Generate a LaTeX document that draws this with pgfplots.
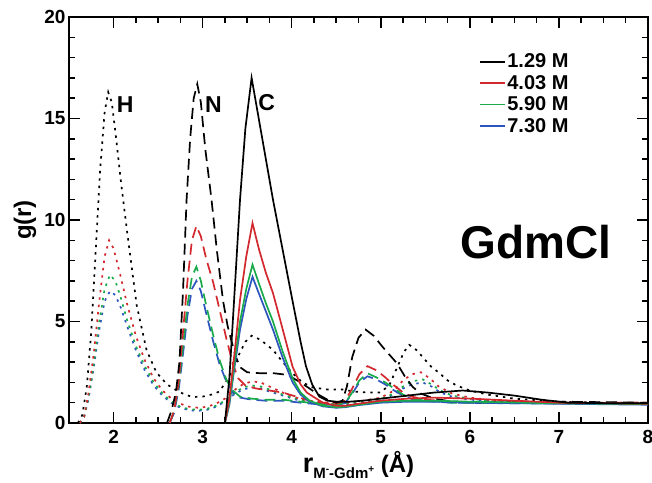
\documentclass[border=0pt]{standalone}
\usepackage{pgfplots}
\pgfplotsset{compat=1.18}
\usepackage{fontspec}
\setmainfont{Liberation Sans}
\definecolor{mred}{RGB}{210,40,45}
\definecolor{mgreen}{RGB}{25,170,75}
\definecolor{mblue}{RGB}{45,85,190}
\tikzset{
  dotl/.style={line width=1.7bp, dash pattern=on 2.4bp off 5bp},
  dashl/.style={line width=1.7bp, dash pattern=on 11bp off 6bp},
  solidl/.style={line width=1.7bp, solid},
}
\begin{document}
\begin{tikzpicture}
\begin{axis}[
  at={(0,0)}, anchor=south west,
  scale only axis, width=579bp, height=406bp,
  xmin=1.5, xmax=8, ymin=0, ymax=20,
  xtick={2,3,4,5,6,7,8}, ytick={0,5,10,15,20},
  xticklabels={2,3,4,5,6,7,8}, yticklabels={0,5,10,15,20},
  minor x tick num=3, minor y tick num=4,
  tick align=inside,
  major tick length=11bp, minor tick length=6.5bp,
  axis line style={line width=1.6bp},
  every tick/.style={line width=1.5bp, black},
  tick label style={font=\bfseries\fontsize{19bp}{19bp}\selectfont},
  xticklabel style={yshift=-4bp},
  xlabel={{\fontsize{27bp}{27bp}\selectfont r}\raisebox{-6bp}{\fontsize{15bp}{15bp}\selectfont M\raisebox{6bp}{\fontsize{10bp}{10bp}\selectfont -}-Gdm\raisebox{6bp}{\fontsize{10bp}{10bp}\selectfont +}} (Å)},
  xlabel style={font=\bfseries\fontsize{24bp}{24bp}\selectfont, at={(axis description cs:0.5,-0.122)}, anchor=base},
  ylabel={g(r)},
  ylabel style={font=\bfseries\fontsize{24bp}{24bp}\selectfont, at={(axis description cs:-0.076,0.5)}, anchor=center},
  legend style={at={(rel axis cs:0.703,0.918)}, anchor=north west, draw=none, fill=none,
    font=\bfseries\fontsize{20bp}{20bp}\selectfont, row sep=3bp,
    nodes={inner sep=1.5bp}},
  legend cell align=left,
  legend image code/.code={\draw[#1, solid, line width=1.6bp] (0bp,0bp) -- (25bp,0bp);},
]
\addlegendimage{color=black, line width=1.6bp}
\addlegendimage{color=mred, line width=1.6bp}
\addlegendimage{color=mgreen, line width=1.6bp}
\addlegendimage{color=mblue, line width=1.6bp}
\legend{1.29 M, 4.03 M, 5.90 M, 7.30 M}

% ---- H (dotted)
\addplot[mblue, dotl, forget plot] coordinates {(1.62,0) (1.67,0.3) (1.72,1.2) (1.78,2.8) (1.84,4.6) (1.9,6.0) (1.96,6.5) (2.02,6.3) (2.08,5.7) (2.15,4.8) (2.25,3.6) (2.35,2.6) (2.45,1.85) (2.55,1.35) (2.65,0.98) (2.75,0.75) (2.85,0.63) (2.95,0.6) (3.05,0.65) (3.15,0.8) (3.25,1.05) (3.35,1.4) (3.45,1.65) (3.55,1.75) (3.65,1.7) (3.75,1.55) (3.9,1.35) (4.05,1.15) (4.2,1.0) (4.4,0.92) (4.6,0.92) (4.8,1.0) (5.0,1.15) (5.15,1.4) (5.25,1.7) (5.35,1.9) (5.47,2.0) (5.57,1.8) (5.67,1.5) (5.8,1.3) (6.0,1.15) (6.3,1.05) (7.0,0.98) (8.0,0.95)};
\addplot[mgreen, dotl, forget plot] coordinates {(1.62,0) (1.67,0.3) (1.72,1.3) (1.78,3.0) (1.84,5.0) (1.9,6.6) (1.96,7.3) (2.02,7.0) (2.08,6.2) (2.15,5.1) (2.25,3.8) (2.35,2.8) (2.45,2.0) (2.55,1.45) (2.65,1.05) (2.75,0.8) (2.85,0.68) (2.95,0.65) (3.05,0.7) (3.15,0.85) (3.25,1.1) (3.35,1.45) (3.45,1.75) (3.55,1.85) (3.65,1.8) (3.75,1.65) (3.9,1.4) (4.05,1.2) (4.2,1.05) (4.4,0.95) (4.6,0.95) (4.8,1.05) (5.0,1.2) (5.15,1.45) (5.25,1.8) (5.35,2.05) (5.47,2.15) (5.57,1.9) (5.67,1.6) (5.8,1.35) (6.0,1.2) (6.3,1.05) (7.0,1.0) (8.0,0.95)};
\addplot[mred, dotl, forget plot] coordinates {(1.62,0) (1.67,0.3) (1.72,1.5) (1.78,3.5) (1.84,6) (1.9,8.2) (1.95,9.0) (2.0,8.6) (2.07,7.4) (2.15,5.9) (2.25,4.3) (2.35,3.1) (2.45,2.2) (2.55,1.6) (2.65,1.2) (2.75,0.95) (2.85,0.8) (2.95,0.75) (3.05,0.8) (3.15,0.95) (3.25,1.2) (3.35,1.6) (3.45,1.9) (3.55,2.05) (3.65,2.0) (3.75,1.8) (3.9,1.5) (4.05,1.25) (4.2,1.1) (4.4,1.0) (4.6,1.0) (4.8,1.1) (5.0,1.25) (5.15,1.6) (5.25,2.1) (5.35,2.4) (5.45,2.5) (5.55,2.2) (5.65,1.8) (5.8,1.45) (6.0,1.25) (6.3,1.1) (7.0,1.0) (8.0,1.0)};
\addplot[black, dotl, forget plot] coordinates {(1.60,0) (1.65,0.4) (1.70,1.8) (1.75,4.5) (1.80,8.5) (1.85,12.5) (1.90,15.3) (1.94,16.3) (1.98,15.8) (2.03,14) (2.08,12) (2.15,9.5) (2.26,5.8) (2.37,3.6) (2.48,2.5) (2.6,1.9) (2.71,1.6) (2.8,1.4) (2.89,1.28) (3.0,1.3) (3.1,1.4) (3.19,1.55) (3.3,2.3) (3.4,3.3) (3.48,4.0) (3.55,4.3) (3.65,4.1) (3.79,3.6) (3.9,3.0) (4.01,2.45) (4.12,2.0) (4.24,1.75) (4.4,1.65) (4.57,1.65) (4.7,1.55) (4.85,1.5) (5.0,1.5) (5.1,1.9) (5.18,2.7) (5.26,3.5) (5.32,3.85) (5.4,3.6) (5.47,3.25) (5.56,2.8) (5.66,2.45) (5.75,2.1) (5.85,1.85) (6.0,1.6) (6.2,1.4) (6.5,1.2) (7.0,1.05) (7.5,1.0) (8.0,1.0)};

% ---- N (dashed)
\addplot[mblue, dashl, forget plot] coordinates {(2.63,0) (2.68,0.5) (2.73,1.6) (2.78,3.4) (2.83,5.3) (2.88,6.6) (2.93,7.0) (2.98,6.5) (3.04,5.4) (3.12,4.0) (3.19,2.9) (3.27,2.0) (3.34,1.5) (3.42,1.25) (3.55,1.15) (3.7,1.1) (3.9,1.1) (4.1,1.0) (4.3,0.92) (4.5,0.88) (4.6,0.98) (4.68,1.45) (4.76,2.0) (4.85,2.3) (4.95,2.15) (5.05,1.9) (5.15,1.6) (5.25,1.35) (5.35,1.18) (5.5,1.08) (5.8,1.0) (6.5,0.97) (8.0,0.95)};
\addplot[mgreen, dashl, forget plot] coordinates {(2.63,0) (2.68,0.6) (2.73,1.8) (2.78,3.8) (2.83,5.8) (2.88,7.2) (2.93,7.7) (2.98,7.0) (3.04,5.8) (3.12,4.3) (3.19,3.1) (3.27,2.1) (3.34,1.6) (3.42,1.3) (3.55,1.2) (3.7,1.15) (3.9,1.15) (4.1,1.05) (4.3,0.95) (4.5,0.9) (4.6,1.0) (4.68,1.5) (4.76,2.1) (4.85,2.45) (4.95,2.25) (5.05,2.0) (5.15,1.7) (5.25,1.4) (5.35,1.2) (5.5,1.1) (5.8,1.0) (6.5,0.98) (8.0,0.95)};
\addplot[mred, dashl, forget plot] coordinates {(2.63,0) (2.68,0.6) (2.73,2) (2.78,4.5) (2.83,7) (2.88,9) (2.93,9.7) (2.98,9.2) (3.04,8.1) (3.12,6.9) (3.2,5.4) (3.27,4.1) (3.34,2.9) (3.4,2.2) (3.48,1.85) (3.6,1.7) (3.75,1.6) (3.9,1.5) (4.05,1.3) (4.2,1.1) (4.35,1.0) (4.5,0.95) (4.6,1.1) (4.68,1.7) (4.76,2.4) (4.85,2.8) (4.95,2.6) (5.05,2.25) (5.15,1.85) (5.25,1.5) (5.35,1.3) (5.5,1.15) (5.8,1.05) (6.5,1.0) (8.0,1.0)};
\addplot[black, dashl, forget plot] coordinates {(2.6,0) (2.65,0.6) (2.7,1.5) (2.74,3) (2.78,6.5) (2.82,11) (2.86,14) (2.9,16) (2.94,16.7) (2.98,15.8) (3.03,13.5) (3.1,11) (3.16,8.5) (3.23,6.0) (3.28,4.8) (3.32,4.1) (3.37,3.3) (3.42,2.75) (3.5,2.5) (3.65,2.45) (3.8,2.45) (3.9,2.4) (3.98,2.3) (4.1,2.0) (4.2,1.7) (4.3,1.4) (4.4,1.15) (4.5,1.0) (4.57,1.1) (4.62,1.8) (4.68,3.25) (4.75,4.2) (4.83,4.6) (4.92,4.3) (5.02,3.75) (5.1,3.35) (5.18,2.95) (5.27,2.3) (5.36,1.77) (5.45,1.45) (5.6,1.2) (5.8,1.05) (6.2,1.0) (7.0,1.05) (8.0,1.0)};

% ---- C (solid)
\addplot[mblue, solidl, forget plot] coordinates {(3.25,0) (3.3,0.9) (3.36,2.8) (3.42,4.6) (3.49,6.1) (3.56,7.2) (3.63,6.4) (3.71,5.5) (3.79,4.6) (3.9,3.2) (4.01,2.0) (4.1,1.4) (4.2,1.05) (4.35,0.82) (4.5,0.75) (4.6,0.78) (4.75,0.88) (5.0,1.0) (5.3,1.05) (5.6,1.05) (6.0,1.0) (7.0,0.95) (8.0,0.9)};
\addplot[mgreen, solidl, forget plot] coordinates {(3.25,0) (3.3,1.0) (3.36,3.0) (3.42,5.0) (3.49,6.6) (3.56,7.8) (3.63,6.9) (3.71,5.9) (3.79,5.0) (3.9,3.5) (4.01,2.2) (4.1,1.5) (4.2,1.1) (4.35,0.85) (4.5,0.78) (4.6,0.8) (4.75,0.9) (5.0,1.05) (5.3,1.1) (5.6,1.1) (6.0,1.05) (7.0,0.97) (8.0,0.93)};
\addplot[mred, solidl, forget plot] coordinates {(3.25,0) (3.3,1.2) (3.36,3.5) (3.42,6.06) (3.49,8.2) (3.56,9.85) (3.63,8.6) (3.71,7.4) (3.79,6.4) (3.9,4.6) (4.01,2.77) (4.1,1.9) (4.17,1.5) (4.24,1.3) (4.35,1.0) (4.5,0.85) (4.6,0.85) (4.75,0.95) (5.0,1.1) (5.3,1.2) (5.6,1.25) (6.0,1.2) (6.5,1.1) (7.0,1.0) (8.0,0.95)};
\addplot[black, solidl, forget plot] coordinates {(3.25,0) (3.3,2.2) (3.35,5.8) (3.42,11) (3.48,14.5) (3.55,17.0) (3.65,14.5) (3.79,11) (3.9,8.5) (4.01,6.0) (4.1,4.0) (4.16,2.8) (4.23,1.9) (4.31,1.3) (4.4,1.1) (4.5,1.05) (4.65,1.05) (4.8,1.1) (5.0,1.2) (5.3,1.35) (5.6,1.5) (5.92,1.6) (6.2,1.5) (6.5,1.35) (6.8,1.15) (7.1,1.0) (7.5,0.98) (8.0,0.97)};

\node[font=\bfseries\fontsize{23bp}{23bp}\selectfont] at (axis cs:2.13,15.7) {H};
\node[font=\bfseries\fontsize{23bp}{23bp}\selectfont] at (axis cs:3.12,15.7) {N};
\node[font=\bfseries\fontsize{23bp}{23bp}\selectfont] at (axis cs:3.72,15.8) {C};
\node[font=\bfseries\fontsize{46bp}{46bp}\selectfont] at (axis cs:6.74,8.9) {GdmCl};
\end{axis}
\pgfresetboundingbox
\path (-69bp,-60bp) rectangle (583bp,423bp);
\end{tikzpicture}
\end{document}
